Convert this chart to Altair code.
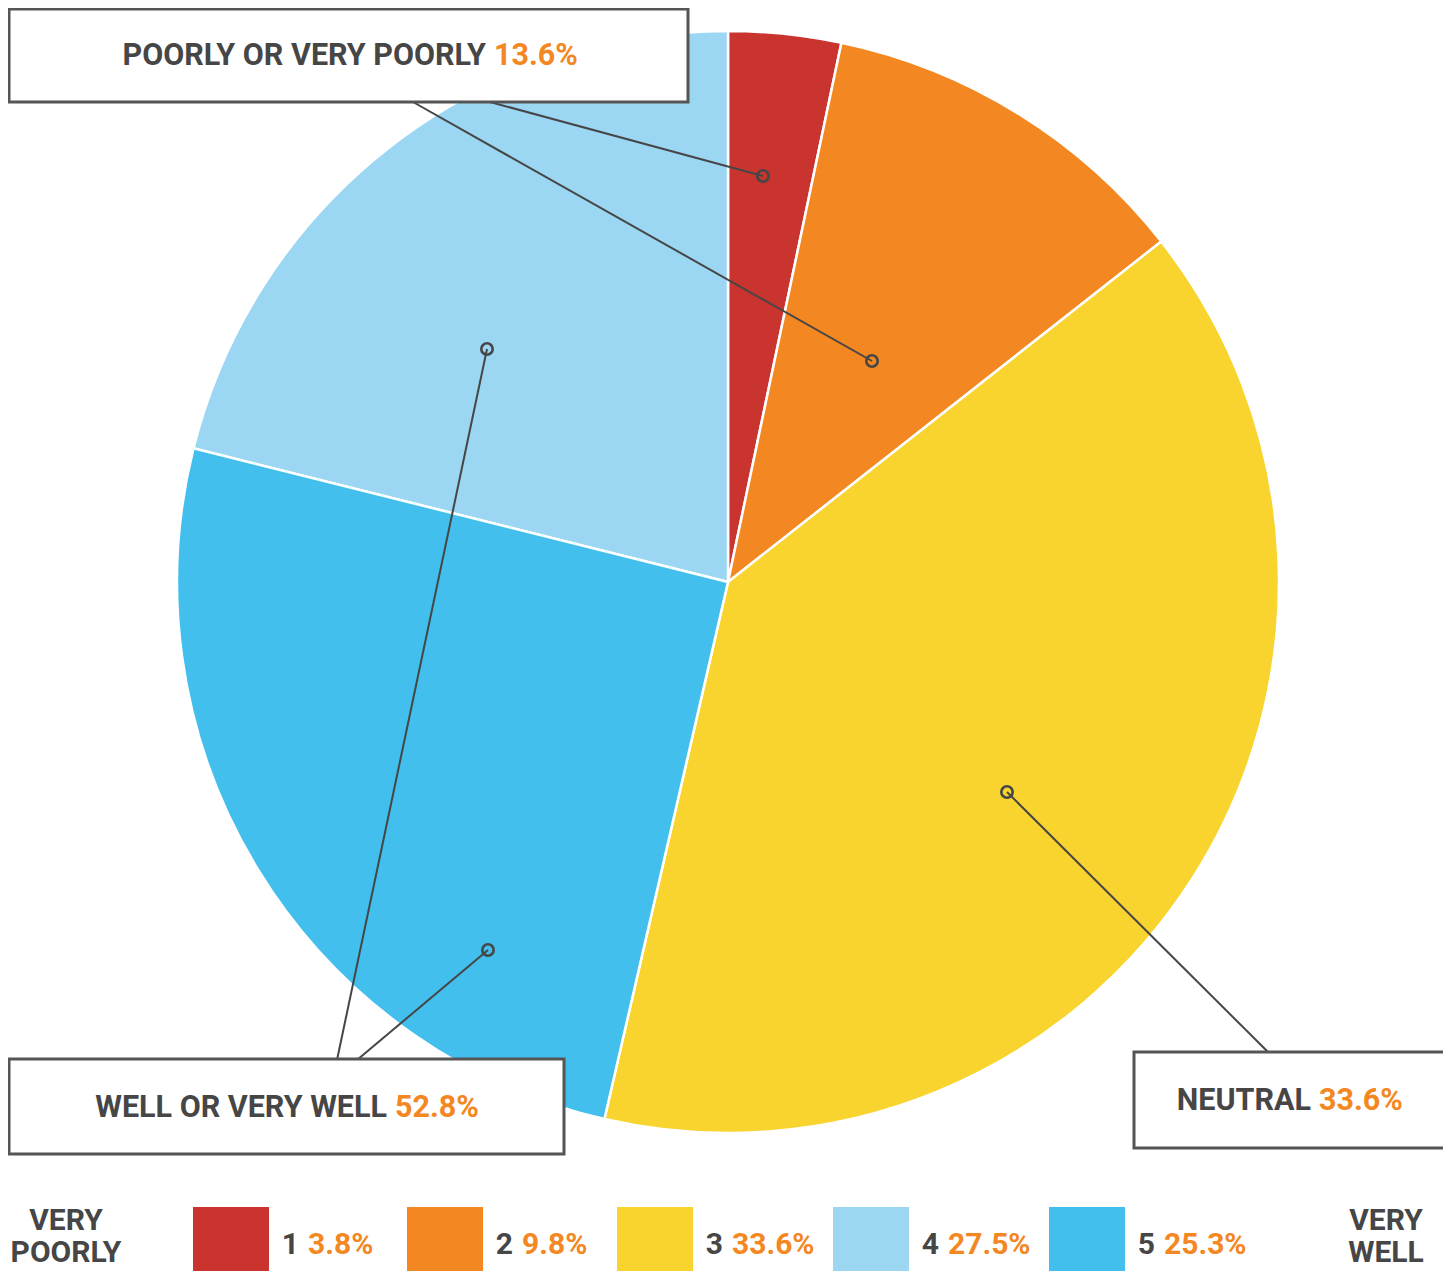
import altair as alt
import pandas as pd

# ---- data ----
categories = ["1", "2", "3", "4", "5"]
legend_pct = [3.8, 9.8, 33.6, 27.5, 25.3]          # printed in the legend
slice_share = [3.3, 11.1, 39.2, 21.1, 25.3]         # share as drawn by the slice angles
slice_rank = [0, 1, 2, 4, 3]                        # clockwise order: 1, 2, 3, 5, 4
colors = ["#C9342F", "#F38721", "#F9D42E", "#9BD6F3", "#42BFEC"]

group_names = ["POORLY OR VERY POORLY", "NEUTRAL", "WELL OR VERY WELL"]
group_pct = [13.6, 33.6, 52.8]

# ---- layout (page pixel coordinates) ----
W, H = 1435, 1263
DARK = "#464646"
ORANGE = "#F38721"
FONT = "Roboto"
FS_BOX = 30.5
FS_LEG = 30

pie_cx, pie_cy, pie_r = 728, 582, 551

anchor_x = [763, 872, 1007, 487, 488]
anchor_y = [176, 361, 792, 349, 950]
end_x = [490, 413, 1268, 337, 357]
end_y = [102, 102, 1052, 1060, 1060]

box_x1 = [9, 1134, 9]
box_x2 = [688, 1445, 564]
box_y1 = [9, 1052, 1059]
box_y2 = [102, 1148, 1154]
box_split = [490, 1315, 391]
box_ty = [56, 1101, 1108]

leg_x1 = [193, 407, 617, 833, 1049]
leg_w = 76
leg_y1, leg_y2 = 1207, 1271
leg_ty = 1245

xs = alt.Scale(domain=[8, 8 + W], range=[0, W], nice=False, zero=False)
ys = alt.Scale(domain=[8, 8 + H], range=[0, H], nice=False, zero=False)


def X(f):
    return alt.X(f, type="quantitative", scale=xs, axis=None)


def Y(f):
    return alt.Y(f, type="quantitative", scale=ys, axis=None)


# pie
pie_df = pd.DataFrame({"cat": categories, "share": slice_share, "rank": slice_rank})
pie = alt.Chart(pie_df).mark_arc(radius=pie_r, stroke="white", strokeWidth=2.5).encode(
    theta=alt.Theta("share:Q", stack=True),
    order=alt.Order("rank:Q"),
    color=alt.Color("cat:N", scale=alt.Scale(domain=categories, range=colors), legend=None),
    x=alt.value(pie_cx - 8),
    y=alt.value(pie_cy - 8),
)

# leader lines
line_df = pd.DataFrame({"x": anchor_x, "y": anchor_y, "x2": end_x, "y2": end_y})
lines = alt.Chart(line_df).mark_rule(color=DARK, strokeWidth=2).encode(
    x=X("x"), y=Y("y"), x2="x2:Q", y2="y2:Q"
)
points = alt.Chart(line_df).mark_point(
    shape="circle", size=130, filled=False, color=DARK, strokeWidth=2.6, opacity=1
).encode(x=X("x"), y=Y("y"))

# callout boxes
box_df = pd.DataFrame({"x": box_x1, "x2": box_x2, "y": box_y1, "y2": box_y2})
boxes = alt.Chart(box_df).mark_rect(fill="white", stroke="#555555", strokeWidth=3).encode(
    x=X("x"), x2="x2:Q", y=Y("y"), y2="y2:Q"
)

box_dark_df = pd.DataFrame({"x": [s - 4 for s in box_split], "y": box_ty, "t": group_names})
box_dark = alt.Chart(box_dark_df).mark_text(
    font=FONT, fontWeight="bold", fontSize=FS_BOX, align="right", baseline="middle", color=DARK
).encode(x=X("x"), y=Y("y"), text="t:N")

box_or_df = pd.DataFrame({"x": [s + 4 for s in box_split], "y": box_ty,
                          "t": [f"{v:.1f}%" for v in group_pct]})
box_or = alt.Chart(box_or_df).mark_text(
    font=FONT, fontWeight="bold", fontSize=FS_BOX, align="left", baseline="middle", color=ORANGE
).encode(x=X("x"), y=Y("y"), text="t:N")

# legend
leg_df = pd.DataFrame({"cat": categories, "x": leg_x1, "x2": [v + leg_w for v in leg_x1],
                       "y": [leg_y1] * 5, "y2": [leg_y2] * 5})
leg_rects = alt.Chart(leg_df).mark_rect().encode(
    x=X("x"), x2="x2:Q", y=Y("y"), y2="y2:Q",
    color=alt.Color("cat:N", scale=alt.Scale(domain=categories, range=colors), legend=None),
)

leg_num_df = pd.DataFrame({"x": [v + leg_w + 30 for v in leg_x1], "y": [leg_ty] * 5, "t": categories})
leg_num = alt.Chart(leg_num_df).mark_text(
    font=FONT, fontWeight="bold", fontSize=FS_LEG, align="right", baseline="middle", color=DARK
).encode(x=X("x"), y=Y("y"), text="t:N")

leg_pct_df = pd.DataFrame({"x": [v + leg_w + 39 for v in leg_x1], "y": [leg_ty] * 5,
                           "t": [f"{v:.1f}%" for v in legend_pct]})
leg_pct = alt.Chart(leg_pct_df).mark_text(
    font=FONT, fontWeight="bold", fontSize=FS_LEG, align="left", baseline="middle", color=ORANGE
).encode(x=X("x"), y=Y("y"), text="t:N")

end_df = pd.DataFrame({"x": [66, 66, 1386, 1386], "y": [1221, 1253, 1221, 1253],
                       "t": ["VERY", "POORLY", "VERY", "WELL"]})
ends = alt.Chart(end_df).mark_text(
    font=FONT, fontWeight="bold", fontSize=FS_LEG, align="center", baseline="middle", color=DARK
).encode(x=X("x"), y=Y("y"), text="t:N")

chart = alt.layer(
    pie, lines, points, boxes, box_dark, box_or, leg_rects, leg_num, leg_pct, ends
).properties(
    width=W, height=H, padding=0, autosize=alt.AutoSizeParams(type="none")
).configure_view(stroke=None)

chart.save("out.html", embed_options={"renderer": "svg", "actions": False})
